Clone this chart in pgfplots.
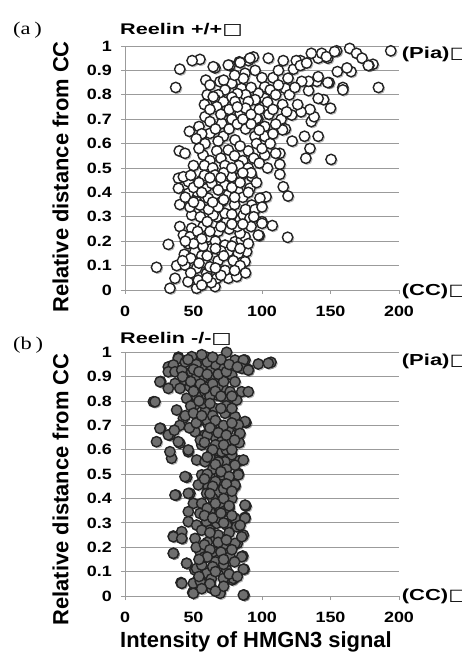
\documentclass[border=0pt]{standalone}
\usepackage{pgfplots}
\pgfplotsset{compat=1.18}
\usepackage{pgfplotstable}
\usepackage{fontspec}
\usepackage{graphicx}
\setmainfont{Liberation Sans}
\newfontfamily\symf{DejaVu Sans}
\newfontfamily\serf{Liberation Serif}
\newcommand{\hstretch}[2]{\scalebox{#1}[1]{#2}}

\pgfplotstableread{
x y
194 0.98
164 0.99
169 0.97
154.5 0.98
173 0.95
181 0.925
185 0.83
178 0.92
165 0.895
162 0.91
155 0.895
159 0.83
149 0.85
140 0.855
141 0.95
148 0.95
143.6 0.97
136 0.97
128 0.94
123 0.905
125 0.94
115.5 0.94
104.6 0.95
93.7 0.955
90 0.94
83.4 0.935
76.6 0.92
65.7 0.91
54.7 0.945
49 0.94
40 0.905
37 0.83
134 0.817
134 0.855
129 0.855
141 0.874
119 0.868
117 0.826
128 0.92
132.6 0.93
147 0.956
153 0.977
177.6 0.92
102 0.833
102 0.785
148 0.85
159 0.82
64.4 0.915
75.4 0.922
84 0.932
91.2 0.95
87.6 0.888
69.3 0.854
77.9 0.847
85 0.826
86.4 0.867
97.3 0.806
95 0.90
100 0.87
108 0.87
112 0.90
106 0.82
92 0.83
80 0.88
72 0.86
110 0.80
115 0.76
88 0.80
95 0.78
82 0.805
78 0.79
73 0.82
68 0.80
66 0.78
59 0.86
62 0.84
60 0.80
150 0.745
145 0.78
141 0.785
150.4 0.535
141 0.63
135 0.58
132 0.54
131 0.63
122 0.61
113 0.515
113 0.56
102 0.553
117 0.66
136 0.69
138 0.71
135 0.74
128.5 0.73
121.7 0.717
114 0.70
115 0.656
101 0.75
97 0.70
102 0.67
102 0.63
47 0.65
39.6 0.57
43.8 0.56
90 0.772
80.3 0.772
71.8 0.772
64.4 0.792
67 0.751
84 0.724
96 0.703
58.4 0.71
62 0.69
70.6 0.683
62 0.642
71.8 0.63
80.3 0.615
94.9 0.63
58.4 0.60
75.4 0.574
57 0.553
88 0.66
92 0.68
78 0.70
74 0.735
88 0.745
105 0.72
108 0.64
96 0.60
90 0.57
84 0.59
68 0.61
66 0.66
54 0.67
56 0.64
52 0.62
67 0.57
62 0.53
70 0.54
80 0.55
86 0.53
94 0.54
100 0.58
76 0.66
82 0.68
98 0.655
54 0.58
50 0.51
58 0.51
64 0.50
73 0.51
83 0.51
90 0.50
113 0.474
115.5 0.423
119 0.385
99.8 0.376
103 0.382
100 0.28
107.5 0.264
98 0.223
118.7 0.216
39 0.458
39 0.417
40 0.35
40 0.26
42.6 0.225
92.5 0.465
91.2 0.417
82.7 0.403
75.4 0.39
70.6 0.362
60.8 0.376
52.3 0.362
52.3 0.403
59.6 0.423
46.2 0.396
46.2 0.444
56 0.45
63.3 0.437
73 0.43
77.9 0.464
65.7 0.471
42.6 0.464
85 0.471
100 0.273
84 0.287
74 0.28
67 0.30
57 0.26
48.7 0.253
48.7 0.307
47.4 0.34
54.7 0.348
64.4 0.307
73 0.314
86.4 0.307
91.2 0.294
98.5 0.376
92.5 0.348
80.3 0.198
85 0.205
87.6 0.218
97.3 0.225
84 0.232
73 0.184
63.3 0.17
60.8 0.218
47.4 0.218
68 0.24
76 0.25
61 0.33
68 0.34
80 0.35
86 0.38
78 0.42
68 0.41
58 0.47
72 0.48
84 0.44
96 0.44
88 0.33
55 0.30
60 0.28
78 0.31
82 0.26
92 0.26
53 0.24
50 0.42
23 0.093
31.6 0.187
32.8 0.007
36.5 0.048
37.7 0.10
43.3 0.146
46 0.034
52.3 0.007
58.4 0.034
65.7 0.014
75.4 0.048
81.5 0.055
73 0.08
59.6 0.068
58.4 0.11
87.6 0.116
88.8 0.157
82.7 0.15
75.4 0.157
51 0.157
43.8 0.102
52.3 0.089
53.5 0.04
67 0.048
62 0.095
68 0.12
70 0.16
79 0.12
56 0.14
46 0.19
63 0.03
84 0.10
66 0.20
57 0.18
58 0.76
62 0.74
70 0.72
76 0.74
82 0.75
86 0.70
92 0.72
98 0.74
104 0.77
108 0.74
112 0.84
120 0.80
124 0.83
126 0.76
118 0.73
110 0.68
106 0.60
110 0.56
104 0.50
98 0.52
92 0.48
86 0.48
78 0.50
70 0.46
62 0.46
54 0.44
48 0.47
44 0.38
50 0.36
56 0.40
64 0.36
72 0.37
80 0.38
90 0.40
95 0.33
100 0.34
94 0.30
86 0.27
78 0.27
70 0.26
62 0.24
56 0.21
50 0.19
44 0.20
48 0.13
54 0.11
60 0.14
66 0.17
72 0.14
78 0.18
84 0.17
90 0.19
70 0.06
60 0.05
48 0.07
42 0.12
80 0.08
88 0.07
66 0.09
56 0.02
}\wildtype

\pgfplotstableread{
x y
106.6 0.959
97.3 0.952
90 0.93
87.6 0.968
74.2 1.0
48.7 0.982
39 0.98
31.6 0.94
26 0.88
20.7 0.797
26 0.688
23 0.633
32.8 0.66
40 0.627
34 0.565
46.2 0.592
45 0.487
37.2 0.414
47.4 0.421
82.7 0.503
83.4 0.555
80.3 0.451
88.3 0.369
87.6 0.323
83.4 0.665
83.4 0.629
88.3 0.711
80.3 0.70
86.9 0.004
69.3 0.018
49.4 0.014
40.9 0.055
51 0.055
35.3 0.175
35.3 0.246
41.4 0.237
45 0.134
51 0.107
86.9 0.11
86 0.164
86.4 0.25
82 0.216
78.3 0.066
38.9 0.975
57.2 0.975
59.6 0.98
66.9 0.968
80.3 0.968
86.4 0.968
85.2 0.934
90 0.927
104.6 0.955
35.3 0.948
31.6 0.92
36.5 0.92
41.4 0.927
48.7 0.92
56 0.941
63.3 0.934
70.6 0.934
77.9 0.907
69.4 0.893
62 0.893
52.3 0.90
43.8 0.886
36.5 0.872
25.5 0.879
31.6 0.852
40.1 0.852
47.4 0.859
56 0.859
63.3 0.845
71.8 0.852
80.3 0.879
76.7 0.838
85.2 0.838
90 0.838
45 0.811
52.3 0.818
59.6 0.811
66.9 0.825
74.2 0.804
81.5 0.804
21.9 0.797
37.7 0.763
42.6 0.729
51.1 0.784
58.4 0.757
65.7 0.77
73 0.75
80.3 0.736
87.6 0.716
54.7 0.722
60.8 0.702
68.2 0.702
75.4 0.681
82.7 0.702
25.5 0.688
31.6 0.661
38.9 0.633
51.1 0.674
58.4 0.661
65.7 0.654
70.6 0.634
83.9 0.667
32.8 0.592
46.2 0.599
56 0.62
63.3 0.592
70.6 0.592
77.9 0.579
52.3 0.558
58.4 0.551
65.7 0.558
73 0.551
80.3 0.537
86.4 0.558
43.8 0.49
56 0.497
62 0.49
70.6 0.497
82.7 0.497
53.5 0.456
60.8 0.449
69.4 0.449
80.3 0.456
36.5 0.414
46.2 0.421
59.6 0.421
68.2 0.428
49.9 0.38
56 0.38
63.3 0.366
70.6 0.38
87.6 0.373
46.2 0.346
54.7 0.339
62 0.346
71.8 0.346
80.3 0.319
87.6 0.319
46.2 0.305
52.3 0.291
59.6 0.305
66.9 0.298
74.2 0.291
81.5 0.284
41.4 0.264
35.3 0.243
41.4 0.236
51.1 0.236
63.3 0.243
70.6 0.229
80.3 0.216
85.2 0.243
57.2 0.196
64.5 0.182
54.7 0.182
35.3 0.175
76.7 0.161
85.2 0.161
45 0.134
52.3 0.113
59.6 0.093
68.2 0.12
74.2 0.107
79.1 0.072
86.4 0.11
41.4 0.052
49.9 0.052
58.4 0.045
63.3 0.031
69.4 0.011
49.9 0.011
86.4 0.004
56 0.127
71.8 0.072
60 0.72
64 0.74
57 0.79
62 0.82
68 0.86
72 0.88
64 0.87
58 0.90
66 0.95
52 0.95
44 0.96
60 0.96
70 0.97
55 0.87
50 0.84
48 0.78
44 0.74
40 0.70
36 0.68
47 0.69
52 0.71
55 0.64
60 0.66
66 0.62
62 0.57
68 0.55
74 0.60
76 0.64
64 0.52
60 0.50
66 0.47
72 0.44
64 0.40
60 0.36
68 0.32
72 0.30
62 0.27
68 0.25
72 0.21
60 0.22
58 0.16
66 0.14
72 0.13
63 0.07
55 0.06
76 0.36
78 0.40
74 0.52
70 0.70
74 0.78
50 0.93
54 0.92
60 0.91
68 0.91
74 0.92
76 0.95
82 0.94
64 0.98
56 0.99
46 0.97
42 0.90
48 0.88
58 0.85
66 0.84
70 0.82
78 0.82
54 0.80
62 0.79
70 0.77
78 0.77
50 0.75
56 0.74
66 0.72
72 0.70
78 0.71
62 0.69
68 0.67
74 0.66
80 0.64
58 0.63
64 0.60
72 0.62
78 0.60
60 0.57
66 0.54
70 0.51
76 0.49
58 0.48
64 0.45
74 0.46
78 0.43
62 0.42
66 0.38
72 0.40
76 0.37
58 0.33
64 0.32
70 0.34
78 0.33
84 0.29
56 0.27
62 0.26
76 0.26
68 0.22
74 0.23
52 0.20
58 0.21
62 0.19
70 0.18
78 0.19
60 0.16
64 0.12
54 0.15
72 0.15
80 0.14
66 0.10
76 0.09
54 0.08
62 0.05
72 0.04
66 0.02
56 0.03
82 0.08
}\mutanttype

\definecolor{gridc}{RGB}{155,155,155}
\definecolor{edgec}{RGB}{35,35,35}
\definecolor{fillb}{RGB}{110,110,110}

\pgfplotsset{
  panel/.style={
    scale only axis,
    width=274bp,
    xmin=0, xmax=200, ymin=0, ymax=1,
    axis lines*=left,
    axis line style={-, draw=gridc, line width=0.9bp},
    every outer x axis line/.append style={-},
    every outer y axis line/.append style={-},
    xtick={0,50,100,150,200},
    ytick={0,0.1,0.2,0.3,0.4,0.5,0.6,0.7,0.8,0.9,1},
    ymajorgrids,
    grid style={draw=gridc, line width=0.9bp},
    tick align=outside,
    major tick length=4bp,
    tick style={draw=gridc, line width=0.9bp},
    /pgf/number format/assume math mode=true,
    /pgf/number format/fixed,
    /pgf/number format/precision=1,
    xticklabel={\hstretch{1.2}{\pgfmathprintnumber{\tick}}},
    yticklabel={\hstretch{1.2}{\pgfmathprintnumber{\tick}}},
    yticklabel style={font=\bfseries\fontsize{15}{15}\selectfont, anchor=east, inner sep=0pt, xshift=-9bp},
    xticklabel style={font=\bfseries\fontsize{15}{15}\selectfont, anchor=north, inner sep=0pt, yshift=-12bp},
    clip=false,
  },
  shadowmk/.style={only marks, mark=*, mark size=5.2bp,
    mark options={fill=black, draw=none, opacity=0.22, xshift=1.3bp, yshift=-1.3bp}},
}

\begin{document}
\begin{tikzpicture}
% ---------- panel (a) ----------
\begin{axis}[panel, height=244bp, at={(125bp,362bp)}, anchor=south west]
\addplot[shadowmk] table[x=x,y=y]{\wildtype};
\addplot[only marks, mark=*, mark size=5.2bp,
  mark options={fill=white, draw=edgec, line width=1.4bp}]
  table[x=x,y=y]{\wildtype};
\node[anchor=base west, inner sep=0pt, font=\bfseries\fontsize{16}{16}\selectfont]
  at ([xshift=2.7bp,yshift=-12.3bp]rel axis cs:1,1) {\hstretch{1.38}{(Pia){\symf\bfseries □}}};
\node[anchor=base west, inner sep=0pt, font=\bfseries\fontsize{16}{16}\selectfont]
  at ([xshift=2.7bp,yshift=-5.5bp]rel axis cs:1,0) {\hstretch{1.38}{(CC){\symf\bfseries □}}};
\end{axis}
% ---------- panel (b) ----------
\begin{axis}[panel, height=243.7bp, at={(125bp,56bp)}, anchor=south west]
\addplot[shadowmk] table[x=x,y=y]{\mutanttype};
\addplot[only marks, mark=*, mark size=5.2bp,
  mark options={fill=fillb, draw=edgec, line width=1.4bp}]
  table[x=x,y=y]{\mutanttype};
\node[anchor=base west, inner sep=0pt, font=\bfseries\fontsize{16}{16}\selectfont]
  at ([xshift=2.7bp,yshift=-13bp]rel axis cs:1,1) {\hstretch{1.38}{(Pia){\symf\bfseries □}}};
\node[anchor=base west, inner sep=0pt, font=\bfseries\fontsize{16}{16}\selectfont]
  at ([xshift=2.7bp,yshift=-4.5bp]rel axis cs:1,0) {\hstretch{1.38}{(CC){\symf\bfseries □}}};
\end{axis}
% ---------- titles and labels ----------
\node[anchor=base west, inner sep=0pt, font=\bfseries\fontsize{15.5}{15.5}\selectfont]
  at (120bp,617bp) {\hstretch{1.4}{Reelin +/+{\symf\bfseries □}}};
\node[anchor=base west, inner sep=0pt, font=\bfseries\fontsize{15.5}{15.5}\selectfont]
  at (120bp,308.7bp) {\hstretch{1.4}{Reelin -/-{\symf\bfseries □}}};
\node[anchor=base west, inner sep=0pt, font=\serf\fontsize{18}{18}\selectfont]
  at (13bp,617bp) {\hstretch{1.25}{(a\,)}};
\node[anchor=base west, inner sep=0pt, font=\serf\fontsize{18}{18}\selectfont]
  at (13bp,302bp) {\hstretch{1.25}{(b\,)}};
\node[rotate=90, anchor=base, inner sep=0pt, font=\bfseries\fontsize{22}{22}\selectfont]
  at (68.3bp,475bp) {Relative distance from CC};
\node[rotate=90, anchor=base, inner sep=0pt, font=\bfseries\fontsize{22}{22}\selectfont]
  at (68.3bp,162.5bp) {Relative distance from CC};
\node[anchor=base west, inner sep=0pt, font=\bfseries\fontsize{22}{22}\selectfont]
  at (120bp,4.3bp) {Intensity of HMGN3 signal};
\pgfresetboundingbox
\path[use as bounding box] (0,0) rectangle (462bp,652bp);
\end{tikzpicture}
\end{document}
